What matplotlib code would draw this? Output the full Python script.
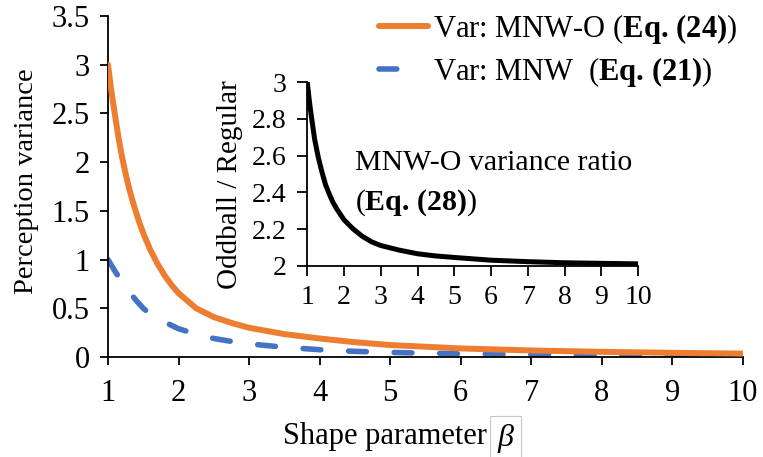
import matplotlib
matplotlib.use("Agg")
import matplotlib.pyplot as plt
from matplotlib.lines import Line2D

plt.rcParams['font.family'] = ['Liberation Serif', 'DejaVu Serif']
plt.rcParams['mathtext.fontset'] = 'custom'
plt.rcParams['mathtext.rm'] = 'Liberation Serif'
plt.rcParams['mathtext.it'] = 'Liberation Serif:italic'
plt.rcParams['mathtext.bf'] = 'Liberation Serif:bold'

# ---- data ----
beta = [1.0, 1.05, 1.1, 1.15, 1.2, 1.25, 1.3, 1.35, 1.4, 1.45, 1.5, 1.6, 1.7,
        1.8, 1.9, 2.0, 2.25, 2.5, 2.75, 3.0, 3.5, 4.0, 4.5, 5.0, 6.0, 7.0,
        8.0, 9.0, 10.0]
var_mnw_o = [3.0, 2.72, 2.48, 2.25, 2.05, 1.88, 1.73, 1.60, 1.48, 1.37, 1.27,
             1.10, 0.96, 0.84, 0.74, 0.655, 0.50, 0.41, 0.35, 0.30, 0.235,
             0.19, 0.152, 0.123, 0.088, 0.067, 0.053, 0.043, 0.035]
var_mnw = [1.0, 0.94, 0.88, 0.825, 0.77, 0.72, 0.67, 0.625, 0.58, 0.54, 0.50,
           0.44, 0.40, 0.36, 0.325, 0.29, 0.235, 0.19, 0.16, 0.135, 0.10,
           0.075, 0.058, 0.047, 0.033, 0.025, 0.02, 0.016, 0.013]
ratio = [3.0, 2.91, 2.83, 2.76, 2.69, 2.64, 2.59, 2.55, 2.51, 2.475, 2.44,
         2.39, 2.345, 2.31, 2.28, 2.25, 2.20, 2.16, 2.13, 2.11, 2.085, 2.065,
         2.053, 2.045, 2.03, 2.022, 2.016, 2.013, 2.01]

main_xticks = [1, 2, 3, 4, 5, 6, 7, 8, 9, 10]
main_yticks = [0, 0.5, 1, 1.5, 2, 2.5, 3, 3.5]
main_yticklabels = ['0', '0.5', '1', '1.5', '2', '2.5', '3', '3.5']
inset_yticks = [2, 2.2, 2.4, 2.6, 2.8, 3]
inset_yticklabels = ['2', '2.2', '2.4', '2.6', '2.8', '3']

label_o = r'Var: MNW-O ($\mathbf{Eq.\,(24)}$)'
label_r = r'Var: MNW  ($\mathbf{Eq.\,(21)}$)'
inset_note_1 = 'MNW-O variance ratio'
inset_note_2 = r'($\mathbf{Eq.\,(28)}$)'

ORANGE = '#ED7D31'
BLUE = '#4472C4'

fig = plt.figure(figsize=(7.63, 4.57), dpi=100)
ax = fig.add_axes([0.1415, 0.2188, 0.8323, 0.7462])

ax.plot(beta, var_mnw_o, color=ORANGE, lw=4.3, solid_capstyle='round',
        solid_joinstyle='round', zorder=3)
ax.plot(beta, var_mnw, color=BLUE, lw=4.0, dashes=(3.2, 5.0),
        dash_capstyle='round', zorder=2)

ax.set_xlim(1, 10)
ax.set_ylim(0, 3.5)
ax.set_xticks(main_xticks)
ax.set_xticklabels([str(t) for t in main_xticks])
ax.set_yticks(main_yticks)
ax.set_yticklabels(main_yticklabels)
for s in ['top', 'right']:
    ax.spines[s].set_visible(False)
for s in ['left', 'bottom']:
    ax.spines[s].set_linewidth(1.3)
ax.tick_params(axis='both', direction='out', length=6, width=1.3,
               labelsize=22)
ax.tick_params(axis='x', pad=10)
ax.tick_params(axis='y', pad=7)
ax.set_ylabel('Perception variance', fontsize=20.5, va='center')
ax.yaxis.set_label_coords(-0.128, 0.516)
fig.text(0.504, 0.044, 'Shape parameter', fontsize=22, ha='center',
         va='center')
fig.text(0.663, 0.040, r'$\beta$', fontsize=23, ha='center', va='center',
         bbox=dict(boxstyle='square,pad=0.2', fc='none', ec='#c8c8c8', lw=0.8))

handles = [
    Line2D([], [], color=ORANGE, lw=4.3, solid_capstyle='round'),
    Line2D([], [], color=BLUE, lw=4.0, dashes=(3.2, 30.0),
           dash_capstyle='round'),
]
leg = ax.legend(handles, [label_o, label_r], loc='upper left',
                bbox_to_anchor=(0.497, 0.974),
                bbox_transform=fig.transFigure, frameon=False, fontsize=22,
                handlelength=1.6, handletextpad=0.15, labelspacing=0.3,
                borderpad=0, borderaxespad=0)

# ---- inset ----
axi = fig.add_axes([0.4027, 0.4186, 0.4335, 0.4015])
axi.plot(beta, ratio, color='black', lw=3.6, solid_capstyle='butt',
         solid_joinstyle='round')
axi.set_xlim(1, 10)
axi.set_ylim(2, 3)
axi.set_xticks(main_xticks)
axi.set_xticklabels([str(t) for t in main_xticks])
axi.set_yticks(inset_yticks)
axi.set_yticklabels(inset_yticklabels)
for s in ['top', 'right']:
    axi.spines[s].set_visible(False)
for s in ['left', 'bottom']:
    axi.spines[s].set_linewidth(1.3)
axi.tick_params(axis='both', direction='out', length=7, width=1.3,
                labelsize=20)
axi.tick_params(axis='x', pad=7)
axi.tick_params(axis='y', pad=8)
axi.set_ylabel('Oddball / Regular', fontsize=21, va='center')
axi.yaxis.set_label_coords(-0.233, 0.44)
axi.patch.set_alpha(0)
axi.text(0.145, 0.56, inset_note_1, transform=axi.transAxes,
         fontsize=21.5, ha='left', va='center')
axi.text(0.145, 0.345, inset_note_2, transform=axi.transAxes,
         fontsize=21.5, ha='left', va='center')

fig.savefig('out.png', dpi=100)
